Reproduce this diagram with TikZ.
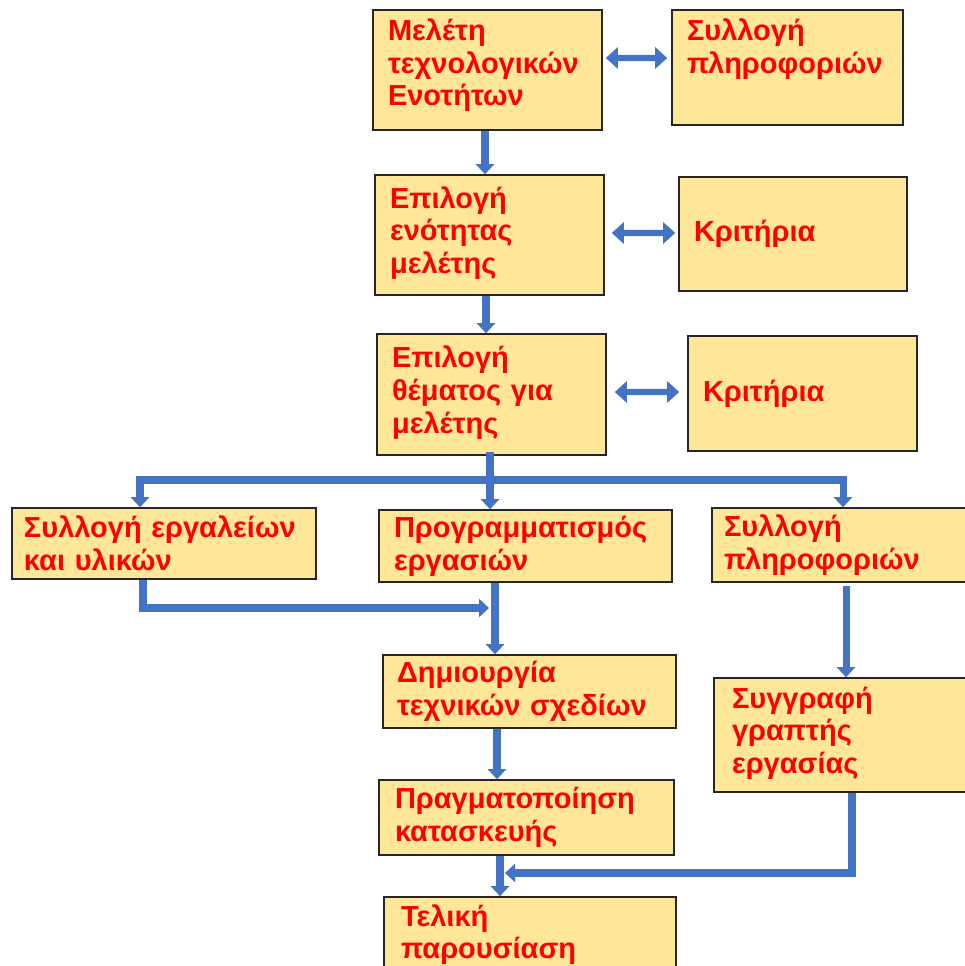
\documentclass[tikz,border=0pt]{standalone}
\usepackage{fontspec}
\setmainfont{Liberation Sans}
\usetikzlibrary{positioning,arrows.meta,calc}
\definecolor{boxfill}{HTML}{FFE699}
\definecolor{flowblue}{HTML}{4472C4}

\begin{document}
\begin{tikzpicture}[
    stage/.style={rectangle, draw=black!85, line width=0.9pt, fill=boxfill, align=left, inner xsep=0.3cm, inner ysep=0pt, text=red, font=\fontsize{16.5}{18.6}\selectfont\bfseries},
    flow/.style={draw=flowblue, line width=4pt, -{Triangle[length=0.2cm, width=0.36cm]}},
    link/.style={draw=flowblue, line width=3.5pt, {Triangle[length=0.24cm, width=0.42cm]}-{Triangle[length=0.24cm, width=0.42cm]}},
    rail/.style={draw=flowblue, line width=4pt, line cap=rect}
]
\useasboundingbox (0,0) rectangle (19.28,-19.32);

% Main column, top part
\node[stage, minimum height=2.40cm, text width=3.98cm] (study) at (9.75,-1.40) {Μελέτη\\τεχνολογικών\\Ενοτήτων\\[-9.8pt]\mbox{}};
\node[stage, minimum height=2.40cm, text width=3.98cm] (unit) at (9.79,-4.70) {Επιλογή\\ενότητας\\μελέτης\\[-13pt]\mbox{}};
\node[stage, minimum height=2.42cm, text width=3.98cm] (topic) at (9.83,-7.89) {Επιλογή\\θέματος για\\μελέτης\\[-13pt]\mbox{}};

% Side boxes
\node[stage, minimum height=2.30cm, text width=4.02cm] (infoA) at (15.75,-1.35) {Συλλογή\\πληροφοριών\\[5.7pt]\mbox{}};
\node[stage, minimum height=2.28cm, text width=3.96cm] (critA) at (15.86,-4.68) {Κριτήρια};
\node[stage, minimum height=2.30cm, text width=3.98cm] (critB) at (16.05,-7.87) {Κριτήρια};

% Three branches
\node[stage, minimum height=1.42cm, text width=5.60cm, inner xsep=0.24cm] (tools) at (3.28,-10.87) {Συλλογή εργαλείων\\και υλικών};
\node[stage, minimum height=1.44cm, text width=5.26cm] (plan) at (10.51,-10.92) {Προγραμματισμός\\εργασιών};
\node[stage, minimum height=1.48cm, text width=4.88cm, inner xsep=0.24cm] (infoB) at (16.92,-10.90) {Συλλογή\\πληροφοριών};

% Lower part
\node[stage, minimum height=1.46cm, text width=5.30cm, inner xsep=0.28cm] (drawings) at (10.59,-13.83) {Δημιουργία\\τεχνικών σχεδίων};
\node[stage, minimum height=2.28cm, text width=4.50cm, inner xsep=0.36cm] (essay) at (16.89,-14.70) {Συγγραφή\\γραπτής\\εργασίας\\[-13pt]\mbox{}};
\node[stage, minimum height=1.50cm, text width=5.26cm, inner xsep=0.32cm] (build) at (10.53,-16.35) {Πραγματοποίηση\\κατασκευής};
\node[stage, minimum height=1.50cm, text width=5.16cm, inner xsep=0.34cm] (final) at (10.60,-18.69) {Τελική\\παρουσίαση};

% Two-way links to the side boxes
\draw[link] ([xshift=0.06cm,yshift=0.24cm]study.east) -- ([xshift=-0.08cm,yshift=0.19cm]infoA.west);
\draw[link] ([xshift=0.14cm,yshift=0.04cm]unit.east) -- ([xshift=-0.06cm,yshift=0.02cm]critA.west);
\draw[link] ([xshift=0.16cm,yshift=0.05cm]topic.east) -- ([xshift=-0.16cm,yshift=0.03cm]critB.west);

% Main column arrows
\coordinate (studyOut) at ([xshift=-0.05cm]study.south);
\draw[flow] (studyOut) -- (studyOut |- unit.north);
\coordinate (unitOut) at ([xshift=-0.07cm]unit.south);
\draw[flow] (unitOut) -- (unitOut |- topic.north);

% Split into three branches
\coordinate (split) at (9.80,-9.60);
\coordinate (barL) at (2.80,-9.60);
\coordinate (barR) at (16.86,-9.60);
\draw[rail] (topic.south -| split) -- (split);
\draw[rail] (barL) -- (barR);
\draw[flow] (barL) -- (barL |- tools.north);
\draw[flow] (split) -- (split |- plan.north);
\draw[flow] (barR) -- (barR |- infoB.north);

% Branches joining again
\coordinate (join1) at (9.78,-12.16);
\draw[flow] ([xshift=-0.42cm]tools.south) |- (join1);
\coordinate (planOut) at ([xshift=-0.61cm]plan.south);
\draw[flow] (planOut) -- (planOut |- drawings.north);
\coordinate (drawOut) at ([xshift=-0.65cm]drawings.south);
\draw[flow] (drawOut) -- (drawOut |- build.north);
\draw[flow] ([yshift=-0.06cm]infoB.south) -- (infoB.south |- essay.north);
\coordinate (join2) at (10.10,-17.46);
\draw[flow, line width=4.6pt] ([xshift=0.15cm]essay.south) |- (join2);
\coordinate (buildOut) at ([xshift=-0.53cm]build.south);
\draw[flow] (buildOut) -- (buildOut |- final.north);

\end{tikzpicture}
\end{document}
